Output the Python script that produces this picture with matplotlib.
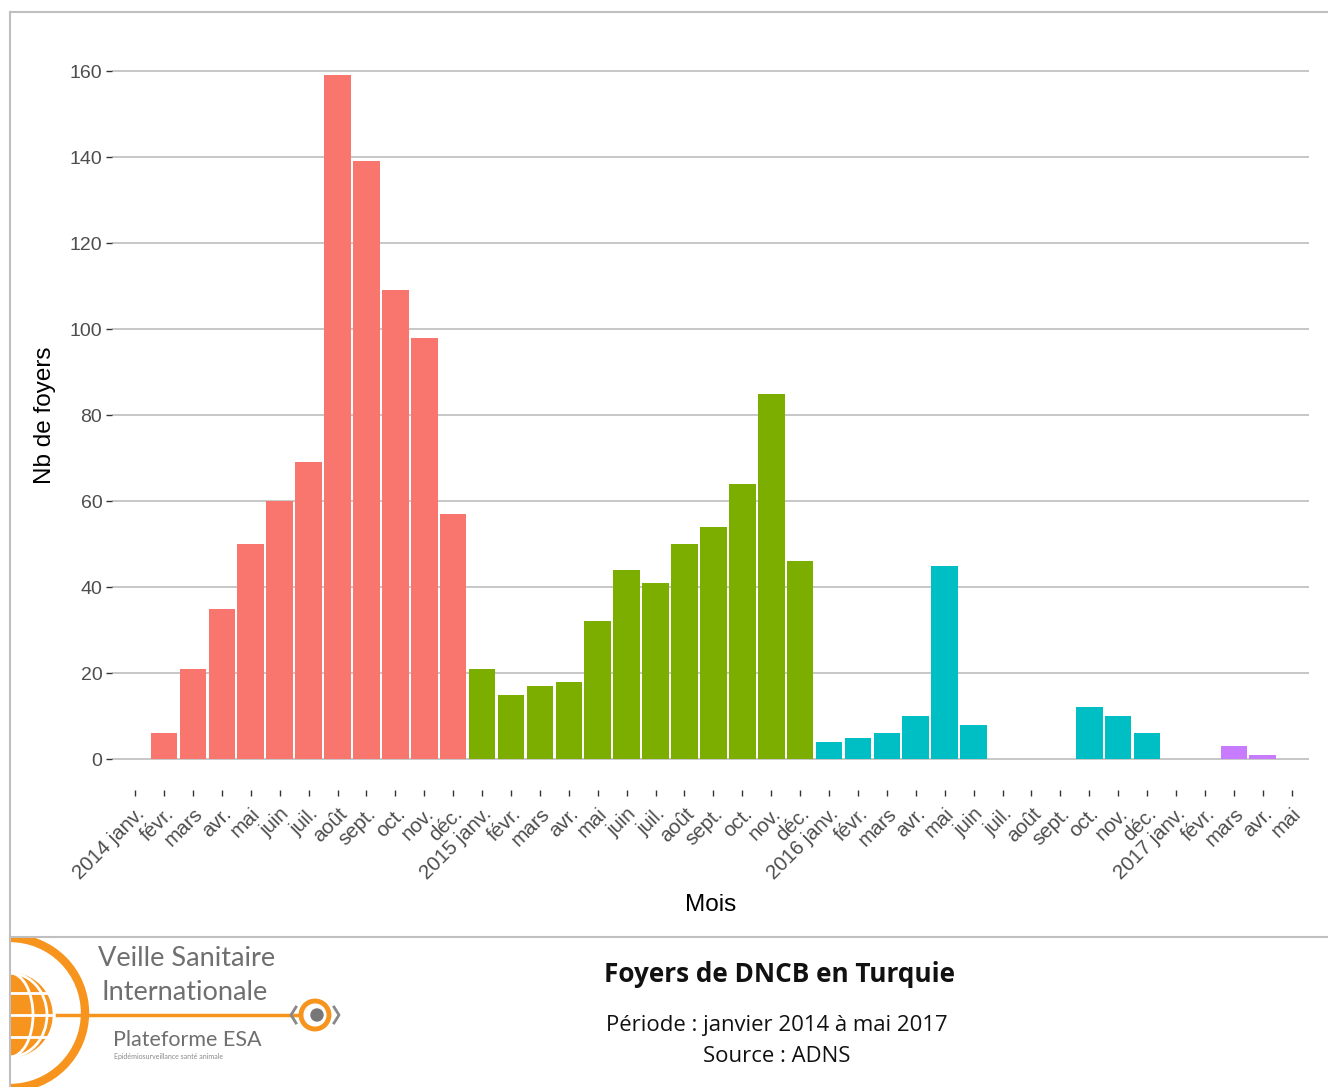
import numpy as np
import matplotlib
matplotlib.use('Agg')
from matplotlib import pyplot as plt
from matplotlib.patches import Circle, Rectangle, Ellipse

plt.rcParams['font.family'] = ['Liberation Sans', 'DejaVu Sans']

# monthly outbreaks, janv. 2014 -> mai 2017
mois = ['janv.', 'févr.', 'mars', 'avr.', 'mai', 'juin', 'juil.', 'août',
        'sept.', 'oct.', 'nov.', 'déc.']
annees = [2014, 2015, 2016, 2017]
foyers_2014 = [0, 6, 21, 35, 50, 60, 69, 159, 139, 109, 98, 57]
foyers_2015 = [21, 15, 17, 18, 32, 44, 41, 50, 54, 64, 85, 46]
foyers_2016 = [4, 5, 6, 10, 45, 8, 0, 0, 0, 12, 10, 6]
foyers_2017 = [0, 0, 3, 1, 0]
couleurs = ['#F8766D', '#7CAE00', '#00BFC4', '#C77CFF']
y_ticks = [0, 20, 40, 60, 80, 100, 120, 140, 160]

series = [foyers_2014, foyers_2015, foyers_2016, foyers_2017]

W, H = 1328, 1087
fig = plt.figure(figsize=(W / 100, H / 100), dpi=100)


def px_axes(x0, y0, x1, y1):
    # rect given in pixels from the top-left corner
    return [x0 / W, 1 - y1 / H, (x1 - x0) / W, (y1 - y0) / H]


ax = fig.add_axes(px_axes(112, 41, 1309, 790))

labels = []
pos = 0
for annee, vals, col in zip(annees, series, couleurs):
    x = np.arange(pos, pos + len(vals))
    ax.bar(x, vals, width=0.92, color=col, linewidth=0)
    for i in range(len(vals)):
        labels.append('%d %s' % (annee, mois[i]) if i == 0 else mois[i])
    pos += len(vals)

ax.set_xlim(-0.8, pos - 1 + 0.6)
ax.set_ylim(-7.2, 167)
ax.set_xticks(np.arange(pos))
ax.set_xticklabels(labels, rotation=45, ha='right', va='top',
                   rotation_mode='anchor', fontsize=14.7, color='#4D4D4D')
ax.set_yticks(y_ticks)
ax.set_yticklabels([str(v) for v in y_ticks], fontsize=14, color='#4D4D4D')
ax.tick_params(axis='both', length=4, width=1, color='#333333')
ax.tick_params(axis='x', pad=6)
ax.tick_params(axis='y', pad=3)
ax.yaxis.grid(True, color='#BEBEBE', linewidth=1.2)
ax.set_axisbelow(True)
for s in ax.spines.values():
    s.set_visible(False)
ax.set_xlabel('Mois', fontsize=17.5, labelpad=8)
ax.set_ylabel('Nb de foyers', fontsize=17.5, labelpad=10)

# frame and footer
over = fig.add_axes([0, 0, 1, 1])
over.set_xlim(0, W)
over.set_ylim(H, 0)
over.axis('off')
over.plot([10, W], [12, 12], color='#BFBFBF', lw=1.5)
over.plot([10, 10], [12, H], color='#BFBFBF', lw=1.5)
over.plot([10, W], [937, 937], color='#BFBFBF', lw=1.5)

orange = '#F7941D'
grey_logo = '#6F6F6F'
clip = Rectangle((11, 938), 600, 160, transform=over.transData)
logo = [
    Circle((10, 1013), 75, fill=False, ec=orange, lw=6),
    Circle((10, 1015), 42, color=orange),
    Ellipse((10, 1015), 46, 84, fill=False, ec='white', lw=2),
    Ellipse((10, 1015), 74, 84, fill=False, ec='white', lw=2),
    Circle((315, 1015), 14, fill=False, ec=orange, lw=3.5),
    Circle((317, 1015), 6, color='#777777'),
]
for p in logo:
    over.add_patch(p)
    p.set_clip_path(clip)
# globe parallels
for dy in [-22, 0, 22]:
    half = np.sqrt(42 ** 2 - dy ** 2)
    l, = over.plot([10 - half, 10 + half], [1015 + dy, 1015 + dy], color='white', lw=2)
    l.set_clip_path(clip)
over.plot([57, 298], [1015, 1015], color=orange, lw=2.5)
over.plot([296, 291, 296], [1007, 1015, 1023], color='#888888', lw=2)
over.plot([334, 339, 334], [1007, 1015, 1023], color='#888888', lw=2)
over.text(98, 958, 'Veille Sanitaire', color=grey_logo, fontsize=19.5,
          family='Lato', va='center')
over.text(102, 992, 'Internationale', color=grey_logo, fontsize=19.5,
          family='Lato', va='center')
over.text(113, 1040, 'Plateforme ESA', color=grey_logo, fontsize=15.5,
          family='Lato', va='center')
over.text(114, 1057, 'Epidémiosurveillance santé animale', color='#8A8A8A',
          fontsize=5, family='Lato', va='center')

over.text(780, 974, 'Foyers de DNCB en Turquie', fontsize=18.8, fontweight='bold',
          family='Open Sans', ha='center', va='center', color='#111111')
over.text(777, 1025, 'Période : janvier 2014 à mai 2017', fontsize=15.9,
          family='Open Sans', ha='center', va='center', color='#111111')
over.text(777, 1057, 'Source : ADNS', fontsize=15.9,
          family='Open Sans', ha='center', va='center', color='#111111')

fig.savefig('out.png', dpi=100)
